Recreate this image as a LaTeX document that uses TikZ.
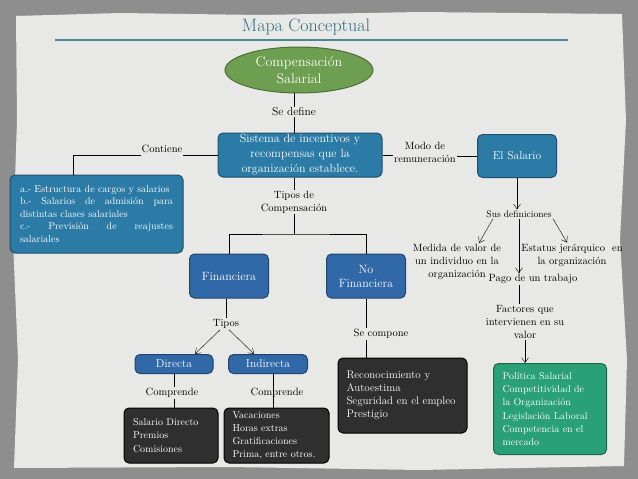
\documentclass[tikz,border=0pt]{standalone}
\usepackage{tikz}
\usetikzlibrary{arrows.meta,shapes.geometric,calc}

\definecolor{fondo}{HTML}{8E8E8E}
\definecolor{papel}{HTML}{E8E8E6}
\definecolor{titulo}{HTML}{2E6E7E}
\definecolor{verdeel}{HTML}{6E9E50}
\definecolor{azulsis}{HTML}{2B7BA6}
\definecolor{azulfin}{HTML}{3168A8}
\definecolor{negro}{HTML}{2F2F2F}
\definecolor{verdeagua}{HTML}{29A078}

\begin{document}
\begin{tikzpicture}[x=1pt,y=-1pt,
    caja/.style={rounded corners=5pt,line width=1pt,text=white,inner sep=0pt,align=center},
    azul/.style={caja,fill=azulsis,draw=azulsis!65!black},
    azulb/.style={caja,fill=azulfin,draw=azulfin!65!black},
    negra/.style={caja,fill=negro,draw=black,align=left},
    etiq/.style={inner sep=1pt,align=center,font=\fontsize{10.5}{13}\selectfont},
    flecha/.style={-{Straight Barb[length=5pt,width=7pt]}}]
      \useasboundingbox (0,0) rectangle (638,479);
      \fill[fondo] (0,0) rectangle (638,479);
      \fill[papel] (16,16) -- (120,13) -- (260,15) -- (420,12) -- (622,14) -- (626,120)
        -- (620,240) -- (627,360) -- (624,466) -- (420,470) -- (230,467) -- (14,468)
        -- (18,360) -- (13,240) -- (17,120) -- cycle;
      \node[text=titulo,font=\fontsize{18}{20}\selectfont] (titulo) at (306,27) {Mapa Conceptual};
      \draw[titulo!85!white,line width=1.5pt] (55,40) -- (568,40);
      \node[ellipse,fill=verdeel,draw=verdeel!70!black,line width=1pt,minimum width=148pt,minimum height=46pt,
        inner sep=0pt,text=white,align=center,font=\fontsize{14}{17}\selectfont] (comp) at (299,70) {Compensación\\Salarial};
      \node[etiq,font=\fontsize{11.5}{13}\selectfont] (sedef) at (294,112) {Se define};
      \node[azul,minimum width=164pt,minimum height=44pt,font=\fontsize{12}{15}\selectfont] (sist) at (300,155)
        {Sistema de incentivos y\\recompensas que la\\organización establece.};
      \node[etiq] (cont) at (162,149) {Contiene};
      \node[azul,minimum width=173pt,minimum height=78pt,text width=153pt,align=justify,
        font=\fontsize{10}{12.5}\selectfont] (lista) at (96.5,214)
        {a.- Estructura de cargos y salarios\\ b.- Salarios de admisión para\linebreak distintas clases salariales\\
         c.- Previsión de reajustes\linebreak salariales};
      \node[etiq] (modo) at (425,152) {Modo de\\remuneración};
      \node[azul,minimum width=79pt,minimum height=43pt,font=\fontsize{11.5}{13}\selectfont] (salario) at (517,156) {El Salario};
      \node[etiq,font=\fontsize{9.5}{11}\selectfont] (susdef) at (519,214) {Sus definiciones};
      \node[etiq] (medida) at (457,262) {Medida de valor de\\un individuo en la\\organización};
      \node[etiq] (estatus) at (572,255) {Estatus jerárquico\ \ en\\la organización};
      \node[etiq] (pago) at (533,279) {Pago de un trabajo};
      \node[etiq] (factores) at (525,322) {Factores que\\intervienen en su\\valor};
      \node[caja,fill=verdeagua,draw=verdeagua!65!black,minimum width=113pt,minimum height=91pt,text width=95pt,
        align=left,font=\fontsize{10}{13.3}\selectfont] (politica) at (550,409)
        {Política Salarial\\Competitividad de\\la Organización\\Legislación Laboral\\Competencia en el\\mercado};
      \node[etiq] (tiposc) at (294,202) {Tipos de\\Compensación};
      \coordinate (rama) at (294,234);
      \node[azulb,minimum width=79pt,minimum height=44pt,font=\fontsize{12}{14}\selectfont] (fin) at (229,276) {Financiera};
      \node[azulb,minimum width=79pt,minimum height=44pt,font=\fontsize{12}{14}\selectfont] (nofin) at (366,276) {No\\Financiera};
      \node[etiq] (tipos) at (226,324) {Tipos};
      \node[azulb,minimum width=78pt,minimum height=19pt,font=\fontsize{11.5}{13}\selectfont] (directa) at (174,364) {Directa};
      \node[azulb,minimum width=79pt,minimum height=19pt,font=\fontsize{11.5}{13}\selectfont] (indirecta) at (268,364) {Indirecta};
      \node[negra,minimum width=94pt,minimum height=55pt,text width=76pt,font=\fontsize{10}{13.5}\selectfont] (directos)
        at (171,435.5) {Salario Directo\\Premios\\Comisiones};
      \node[negra,minimum width=105pt,minimum height=55pt,text width=88pt,font=\fontsize{10}{13}\selectfont] (indirectos)
        at (276.5,435.5) {Vacaciones\\Horas extras\\Gratificaciones\\Prima, entre otros.};
      \node[etiq] (secomp) at (381,334) {Se compone};
      \node[negra,minimum width=129pt,minimum height=75pt,text width=112pt,font=\fontsize{11}{13}\selectfont] (reconoc)
        at (402.5,395.5) {Reconocimiento y\\Autoestima\\Seguridad en el empleo\\Prestigio};
      \draw ($(comp.south -| sedef.north)+(0,-1)$) -- (sedef.north);
      \draw (sedef.south) -- (sedef.south |- sist.north);
      \draw (sist.west) -- (sist.west -| cont.east);
      \draw (sist.west -| cont.west) -| ($(lista.north west)+(64,0)$);
      \draw (sist.east) -- (sist.east -| modo.west);
      \draw (modo.east |- salario.west) -- (salario.west);
      \draw[flecha] (salario.south) -- (salario.south |- susdef.north);
      \draw[flecha] ($(susdef.south)+(-26,0)$) -- ($(medida.north)+(22,0)$);
      \draw[flecha] (susdef.south) -- (susdef.south |- pago.north);
      \draw[flecha] ($(susdef.south)+(34,0)$) -- ($(estatus.north)+(-5,0)$);
      \draw (susdef.south |- pago.south) -- (susdef.south |- factores.north);
      \draw[flecha] (factores.south) -- (factores.south |- politica.north);
      \draw (sist.south -| tiposc.north) -- (tiposc.north);
      \draw (tiposc.south) -- (rama);
      \draw (fin.north) |- (rama) -| (nofin.north);
      \draw (fin.south -| tipos.north) -- (tipos.north);
      \draw[flecha] ($(tipos.south)+(-6,0)$) -- ($(directa.north)+(21,0)$);
      \draw[flecha] ($(tipos.south)+(3,0)$) -- ($(indirecta.north)+(-14,0)$);
      \node[etiq] (comp1) at (172,393) {Comprende};
      \draw (directa.south) -- (directa.south |- comp1.north);
      \draw (directa.south |- comp1.south) -- (directa.south |- directos.north);
      \draw ($(indirecta.south)+(5,0)$) -- ($(indirecta.south |- indirectos.north)+(5,0)$);
      \node[etiq] (comp2) at (277,393) {Comprende};
      \draw (nofin.south) -- (nofin.south |- secomp.north);
      \draw (nofin.south |- secomp.south) -- (nofin.south |- reconoc.north);
    \end{tikzpicture}
\end{document}
